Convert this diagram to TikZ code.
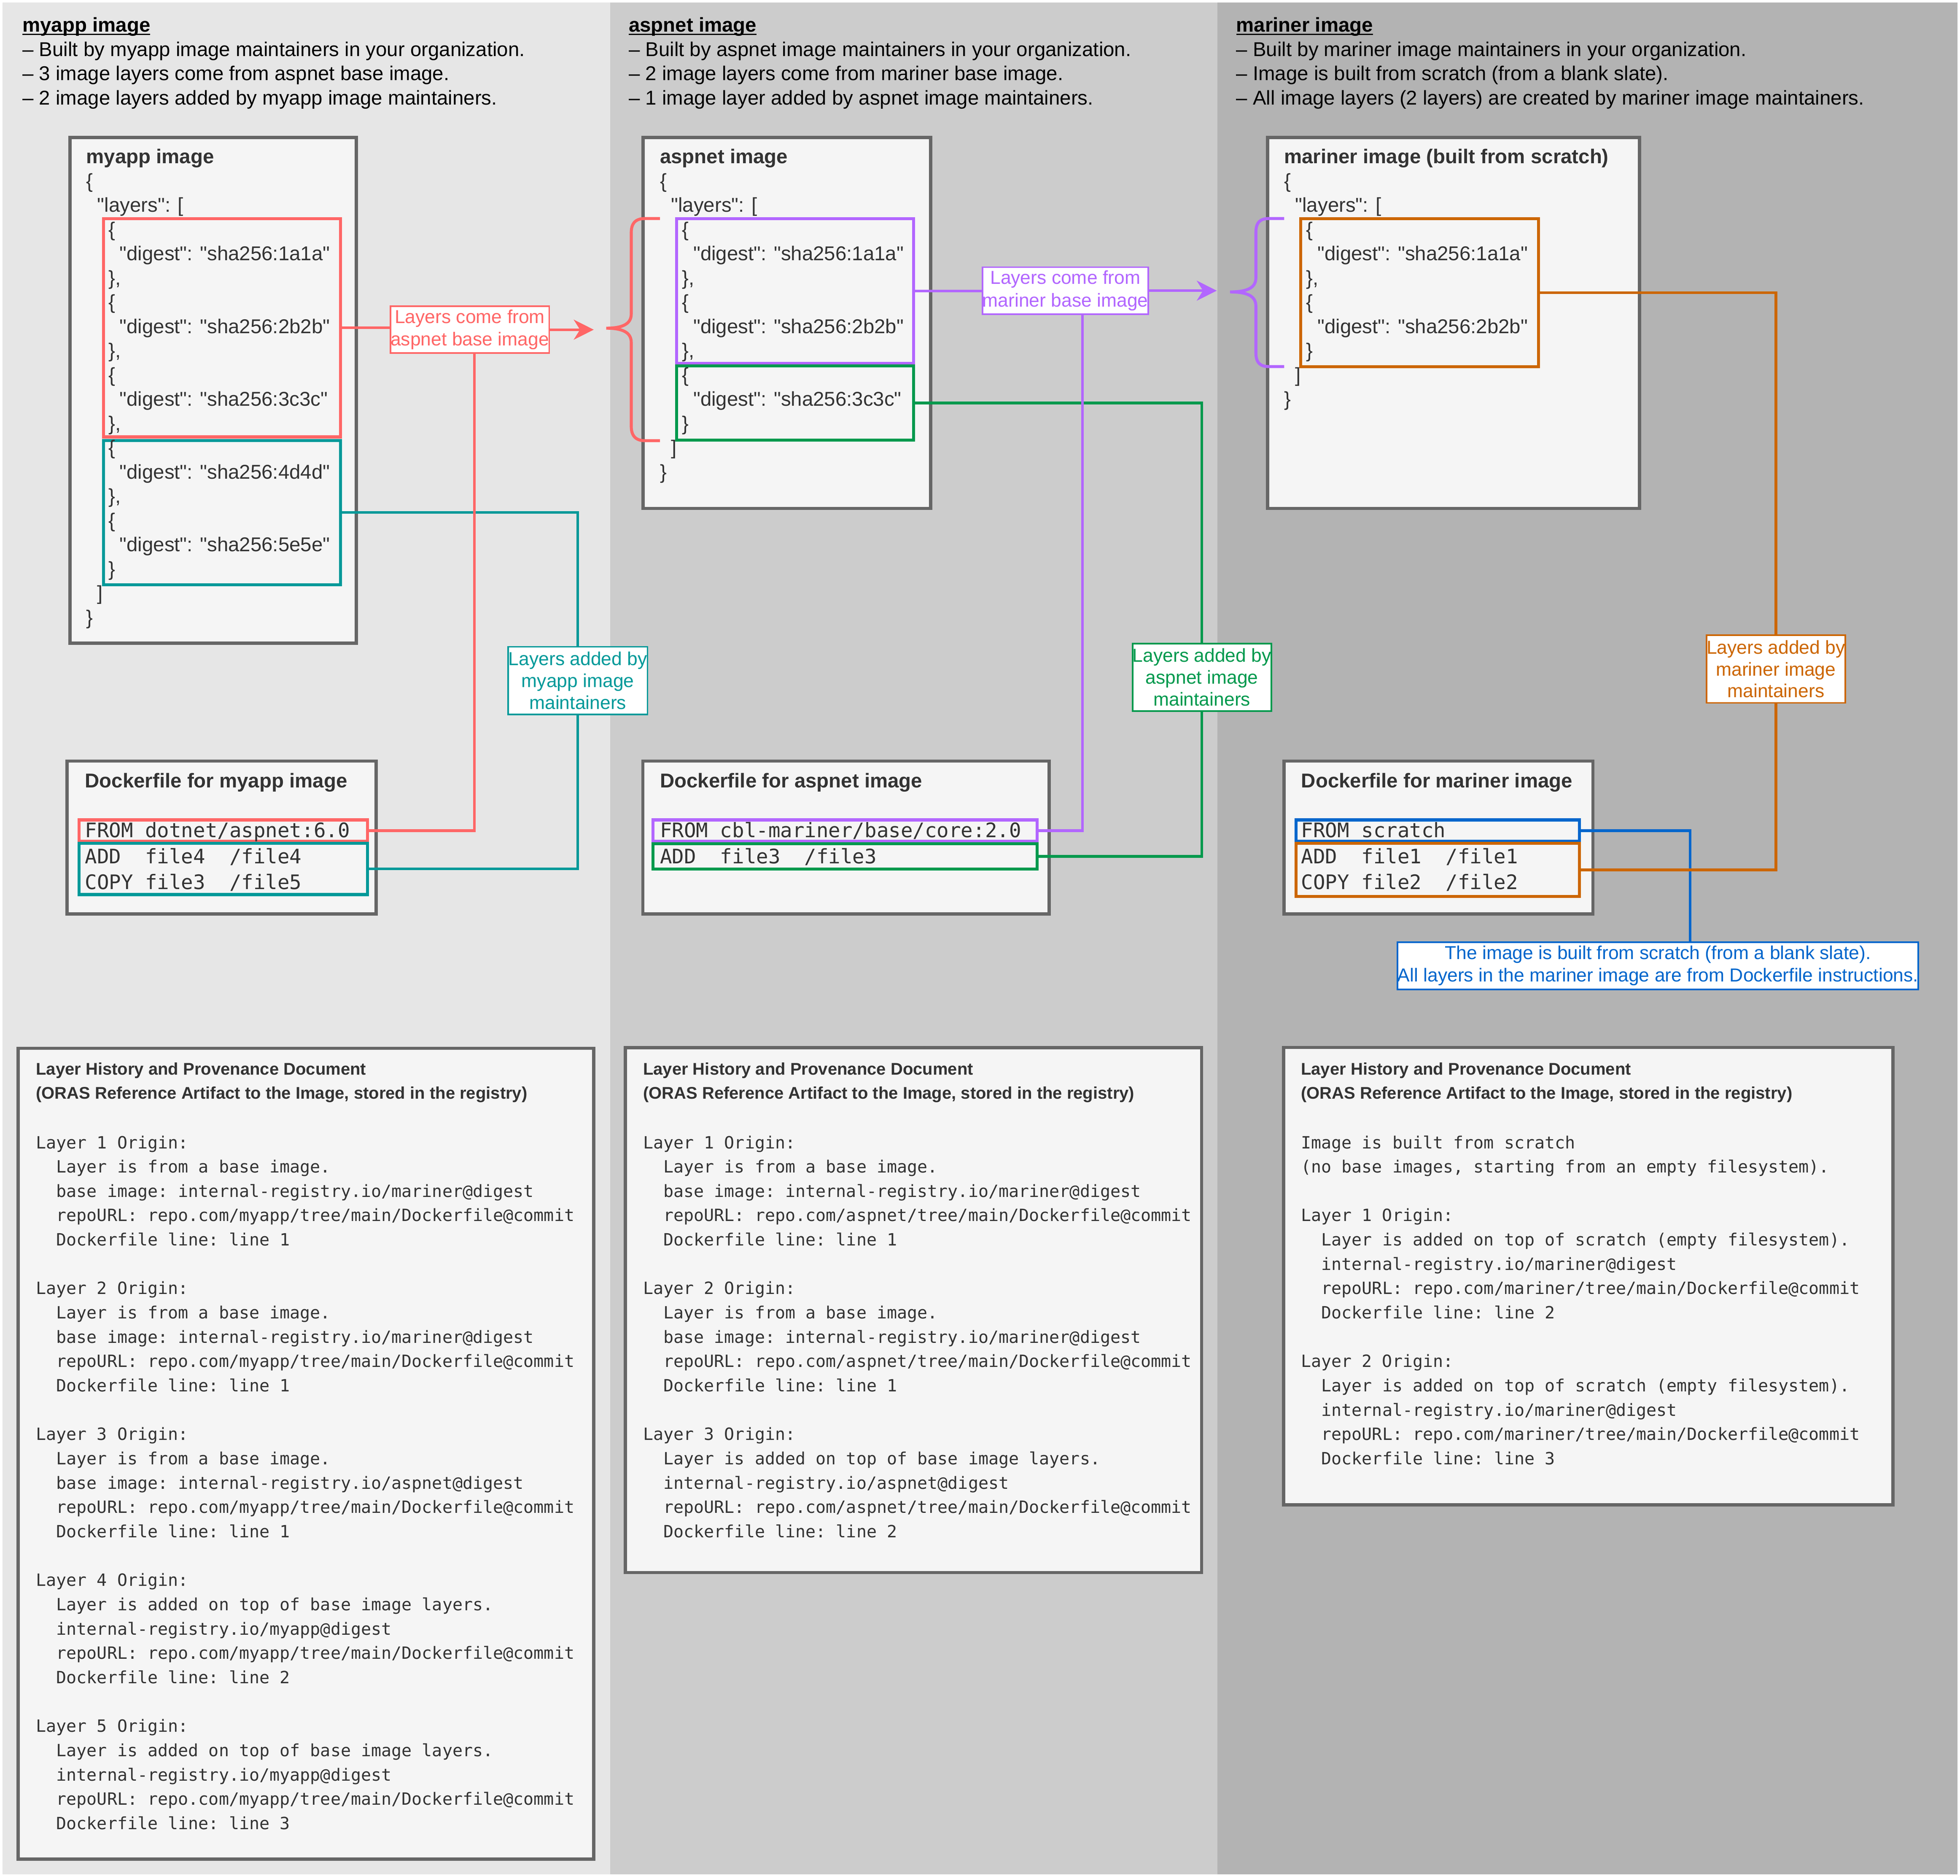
\documentclass[tikz,border=0pt]{standalone}
\usepackage{fontspec}
\setmainfont{Liberation Sans}[Ligatures=TeXOff]
\setmonofont{DejaVu Sans Mono}
\usetikzlibrary{arrows.meta}
\definecolor{cLaneA}{HTML}{E6E6E6}
\definecolor{cLaneB}{HTML}{CCCCCC}
\definecolor{cLaneC}{HTML}{B3B3B3}
\definecolor{boxfill}{HTML}{F5F5F5}
\definecolor{boxline}{HTML}{666666}
\definecolor{txt}{HTML}{333333}
\definecolor{cred}{HTML}{FF6666}
\definecolor{cteal}{HTML}{009999}
\definecolor{cpurple}{HTML}{B266FF}
\definecolor{cgreen}{HTML}{00994D}
\definecolor{corange}{HTML}{CC6600}
\definecolor{cblue}{HTML}{0066CC}
\newcommand\fontJ{\fontsize{16}{19.4}\selectfont}
\newcommand\fontL{\fontsize{15}{18}\selectfont}
\newcommand\fontD{\fontsize{13.5}{19.45}\selectfont}
\newcommand\boxnode[7]{%
  \node[#2, minimum width={(#5)-(#3)}, minimum height={(#6)-(#4)}] (#1) at ({((#3)+(#5))/2},{((#4)+(#6))/2}) {#7};}
\newcommand\txtlines[6]{%
  \foreach \ln [count=\i from 0] in {#6}{%
    \node[#2, anchor=base west, inner sep=0pt, outer sep=0pt] (#1-\i) at (#3, {#4+\i*#5}) {\ln};}}
\tikzset{
  lane/.style={draw=none, inner sep=0pt, outer sep=0pt},
  panel/.style={draw=boxline, fill=boxfill, line width=2.6pt, inner sep=0pt, outer sep=0pt},
  hl/.style={draw=#1, line width=2.4pt, inner sep=0pt, outer sep=0pt},
  lbl/.style={draw=#1, text=#1, fill=white, line width=1.3pt, inner sep=0pt, outer sep=0pt, align=center, font=\fontL},
  conn/.style={draw=#1, line width=2.1pt},
  brace/.style={draw=#1, line width=2.4pt},
  hdr/.style={text=black, font=\fontJ},
  json/.style={text=txt, font=\fontJ},
  mono/.style={text=txt, font=\fontJ\ttfamily},
  docm/.style={text=txt, font=\fontD\ttfamily},
  doct/.style={text=txt, font={\fontsize{13.5}{19.3}\selectfont\bfseries}},
  tip/.style={-{Stealth[length=16pt,width=16pt,inset=5pt]}},
}
\begin{document}
\begin{tikzpicture}[x=1pt,y=-1pt]
\useasboundingbox (0,0) rectangle (1568,1500.5);
\fill[white] (0,0) rectangle (1568,1500.5);
% lanes
\boxnode{laneA}{lane, fill=cLaneA}{2}{2}{488}{1499}{}
\boxnode{laneB}{lane, fill=cLaneB}{488}{2}{974}{1499}{}
\boxnode{laneC}{lane, fill=cLaneC}{974}{2}{1566}{1499}{}
% headers
\txtlines{hA}{hdr}{18}{25.5}{19.4}{{\bfseries myapp image},{– Built by myapp image maintainers in your organization.},{– 3 image layers come from aspnet base image.},{– 2 image layers added by myapp image maintainers.}}
\txtlines{hB}{hdr}{503}{25.5}{19.4}{{\bfseries aspnet image},{– Built by aspnet image maintainers in your organization.},{– 2 image layers come from mariner base image.},{– 1 image layer added by aspnet image maintainers.}}
\txtlines{hC}{hdr}{989}{25.5}{19.4}{{\bfseries mariner image},{– Built by mariner image maintainers in your organization.},{– Image is built from scratch (from a blank slate).},{– All image layers (2 layers) are created by mariner image maintainers.}}
\foreach \h in {hA,hB,hC}{\draw[line width=1.3pt] ([yshift=-2pt]\h-0.base west) -- ([yshift=-2pt]\h-0.base east);}
% panels
\boxnode{jsonA}{panel}{56}{110}{285}{514.5}{}
\boxnode{jsonB}{panel}{514.5}{110}{744.5}{406.7}{}
\boxnode{jsonC}{panel}{1014}{110}{1311.5}{406.7}{}
\boxnode{dockA}{panel}{53.7}{608.7}{301}{731}{}
\boxnode{dockB}{panel}{514.3}{608.7}{839.4}{731}{}
\boxnode{dockC}{panel}{1027.3}{608.7}{1274.3}{731}{}
\boxnode{docA}{panel}{14.6}{838.5}{475}{1487}{}
\boxnode{docB}{panel}{500.4}{838}{961.3}{1257.8}{}
\boxnode{docC}{panel}{1026.9}{837.8}{1514.4}{1203.7}{}
% highlight boxes
\boxnode{redbox}{hl=cred}{82.7}{174.8}{272.3}{349.5}{}
\boxnode{tealbox}{hl=cteal}{82.7}{352.4}{272.3}{467.6}{}
\boxnode{purplebox}{hl=cpurple}{541.3}{174.8}{731}{290.5}{}
\boxnode{greenbox}{hl=cgreen}{541.3}{292.7}{731}{351.9}{}
\boxnode{orangebox}{hl=corange}{1040.5}{174.8}{1230.7}{293.2}{}
\boxnode{fromA}{hl=cred}{63.4}{655.8}{293.9}{673}{}
\boxnode{addA}{hl=cteal}{63.4}{674.6}{293.9}{715.5}{}
\boxnode{fromB}{hl=cpurple}{522.4}{655.8}{829.8}{673}{}
\boxnode{addB}{hl=cgreen}{522.4}{675}{829.8}{695}{}
\boxnode{fromC}{hl=cblue}{1036.7}{655.8}{1263.4}{673}{}
\boxnode{addC}{hl=corange}{1036.7}{674.6}{1263.4}{717}{}
% JSON texts
\txtlines{jA}{json}{69}{130.8}{19.4}{{\bfseries myapp image},{\{},{\ \ "layers": [},{\ \ \ \ \{},{\ \ \ \ \ \ "digest": "sha256:1a1a"},{\ \ \ \ \},},{\ \ \ \ \{},{\ \ \ \ \ \ "digest": "sha256:2b2b"},{\ \ \ \ \},},{\ \ \ \ \{},{\ \ \ \ \ \ "digest": "sha256:3c3c"},{\ \ \ \ \},},{\ \ \ \ \{},{\ \ \ \ \ \ "digest": "sha256:4d4d"},{\ \ \ \ \},},{\ \ \ \ \{},{\ \ \ \ \ \ "digest": "sha256:5e5e"},{\ \ \ \ \}},{\ \ ]},{\}}}
\txtlines{jB}{json}{528}{130.8}{19.4}{{\bfseries aspnet image},{\{},{\ \ "layers": [},{\ \ \ \ \{},{\ \ \ \ \ \ "digest": "sha256:1a1a"},{\ \ \ \ \},},{\ \ \ \ \{},{\ \ \ \ \ \ "digest": "sha256:2b2b"},{\ \ \ \ \},},{\ \ \ \ \{},{\ \ \ \ \ \ "digest": "sha256:3c3c"},{\ \ \ \ \}},{\ \ ]},{\}}}
\txtlines{jC}{json}{1027.3}{130.8}{19.4}{{\bfseries mariner image (built from scratch)},{\{},{\ \ "layers": [},{\ \ \ \ \{},{\ \ \ \ \ \ "digest": "sha256:1a1a"},{\ \ \ \ \},},{\ \ \ \ \{},{\ \ \ \ \ \ "digest": "sha256:2b2b"},{\ \ \ \ \}},{\ \ ]},{\}}}
% Dockerfile texts
\txtlines{tA}{json}{68}{630}{19.4}{{\bfseries Dockerfile for myapp image}}
\txtlines{tB}{json}{528}{630}{19.4}{{\bfseries Dockerfile for aspnet image}}
\txtlines{tC}{json}{1041}{630}{19.4}{{\bfseries Dockerfile for mariner image}}
\txtlines{kA}{mono}{68}{669.8}{20.75}{{FROM dotnet/aspnet:6.0},{ADD\ \ file4\ \ /file4},{COPY file3\ \ /file5}}
\txtlines{kB}{mono}{528}{669.8}{20.75}{{FROM cbl-mariner/base/core:2.0},{ADD\ \ file3\ \ /file3}}
\txtlines{kC}{mono}{1041}{669.8}{20.75}{{FROM scratch},{ADD\ \ file1\ \ /file1},{COPY file2\ \ /file2}}
% provenance documents
\txtlines{dAt}{doct}{28.8}{859.8}{19.3}{{Layer History and Provenance Document},{(ORAS Reference Artifact to the Image, stored in the registry)}}
\txtlines{dBt}{doct}{514.5}{859.8}{19.3}{{Layer History and Provenance Document},{(ORAS Reference Artifact to the Image, stored in the registry)}}
\txtlines{dCt}{doct}{1040.8}{859.8}{19.3}{{Layer History and Provenance Document},{(ORAS Reference Artifact to the Image, stored in the registry)}}
\txtlines{dA1}{docm}{28.8}{918.6}{19.45}{{Layer 1 Origin:},{\ \ Layer is from a base image.},{\ \ base image: internal-registry.io/mariner@digest},{\ \ repoURL: repo.com/myapp/tree/main/Dockerfile@commit},{\ \ Dockerfile line: line 1}}
\txtlines{dA2}{docm}{28.8}{1035.3}{19.45}{{Layer 2 Origin:},{\ \ Layer is from a base image.},{\ \ base image: internal-registry.io/mariner@digest},{\ \ repoURL: repo.com/myapp/tree/main/Dockerfile@commit},{\ \ Dockerfile line: line 1}}
\txtlines{dA3}{docm}{28.8}{1152.0}{19.45}{{Layer 3 Origin:},{\ \ Layer is from a base image.},{\ \ base image: internal-registry.io/aspnet@digest},{\ \ repoURL: repo.com/myapp/tree/main/Dockerfile@commit},{\ \ Dockerfile line: line 1}}
\txtlines{dA4}{docm}{28.8}{1268.7}{19.45}{{Layer 4 Origin:},{\ \ Layer is added on top of base image layers.},{\ \ internal-registry.io/myapp@digest},{\ \ repoURL: repo.com/myapp/tree/main/Dockerfile@commit},{\ \ Dockerfile line: line 2}}
\txtlines{dA5}{docm}{28.8}{1385.4}{19.45}{{Layer 5 Origin:},{\ \ Layer is added on top of base image layers.},{\ \ internal-registry.io/myapp@digest},{\ \ repoURL: repo.com/myapp/tree/main/Dockerfile@commit},{\ \ Dockerfile line: line 3}}
\txtlines{dB1}{docm}{514.5}{918.6}{19.45}{{Layer 1 Origin:},{\ \ Layer is from a base image.},{\ \ base image: internal-registry.io/mariner@digest},{\ \ repoURL: repo.com/aspnet/tree/main/Dockerfile@commit},{\ \ Dockerfile line: line 1}}
\txtlines{dB2}{docm}{514.5}{1035.3}{19.45}{{Layer 2 Origin:},{\ \ Layer is from a base image.},{\ \ base image: internal-registry.io/mariner@digest},{\ \ repoURL: repo.com/aspnet/tree/main/Dockerfile@commit},{\ \ Dockerfile line: line 1}}
\txtlines{dB3}{docm}{514.5}{1152.0}{19.45}{{Layer 3 Origin:},{\ \ Layer is added on top of base image layers.},{\ \ internal-registry.io/aspnet@digest},{\ \ repoURL: repo.com/aspnet/tree/main/Dockerfile@commit},{\ \ Dockerfile line: line 2}}
\txtlines{dC0}{docm}{1040.8}{918.6}{19.45}{{Image is built from scratch},{(no base images, starting from an empty filesystem).}}
\txtlines{dC1}{docm}{1040.8}{976.95}{19.45}{{Layer 1 Origin:},{\ \ Layer is added on top of scratch (empty filesystem).},{\ \ internal-registry.io/mariner@digest},{\ \ repoURL: repo.com/mariner/tree/main/Dockerfile@commit},{\ \ Dockerfile line: line 2}}
\txtlines{dC2}{docm}{1040.8}{1093.65}{19.45}{{Layer 2 Origin:},{\ \ Layer is added on top of scratch (empty filesystem).},{\ \ internal-registry.io/mariner@digest},{\ \ repoURL: repo.com/mariner/tree/main/Dockerfile@commit},{\ \ Dockerfile line: line 3}}
% labels
\boxnode{redlbl}{lbl=cred}{312.3}{245}{439.4}{282.4}{Layers come from\\aspnet base image}
\boxnode{purplelbl}{lbl=cpurple}{786}{213.7}{918.4}{251.3}{Layers come from\\mariner base image}
\boxnode{teallbl}{lbl=cteal, font=\fontsize{15}{17.5}\selectfont}{406.5}{517.3}{518}{571.5}{Layers added by\\myapp image\\maintainers}
\boxnode{greenlbl}{lbl=cgreen, font=\fontsize{15}{17.5}\selectfont}{906}{514.7}{1017}{568.8}{Layers added by\\aspnet image\\maintainers}
\boxnode{orangelbl}{lbl=corange, font=\fontsize{15}{17.5}\selectfont}{1365.4}{508}{1476}{562.2}{Layers added by\\mariner image\\maintainers}
\boxnode{bluelbl}{lbl=cblue}{1119.6}{753.6}{1533}{791.3}{The image is built from scratch (from a blank slate).\\All layers in the mariner image are from Dockerfile instructions.}
% helper coordinates
\coordinate (rArrow) at (475,263.7);
\coordinate (pArrow) at (973.4,232.5);
\coordinate (rVx) at (379.5,0);
\coordinate (pVx) at (866,0);
\coordinate (bVx) at (1352,0);
% connectors
\draw[conn=cteal] (tealbox.east) -| (teallbl.north);
\draw[conn=cteal] (teallbl.south) |- (addA.east);
\draw[conn=cred] (redbox.east) -- (redbox.east -| redlbl.west);
\draw[conn=cred, tip] (redlbl.east) -- (rArrow);
\draw[conn=cred] (rVx |- redlbl.south) |- (fromA.east);
\draw[conn=cgreen] (greenbox.east) -| (greenlbl.north);
\draw[conn=cgreen] (greenlbl.south) |- (addB.east);
\draw[conn=cpurple] (purplebox.east) -- (purplebox.east -| purplelbl.west);
\draw[conn=cpurple, tip] (purplelbl.east) -- (pArrow);
\draw[conn=cpurple] (pVx |- purplelbl.south) |- (fromB.east);
\draw[conn=cblue] (fromC.east) -| (bVx |- bluelbl.north);
\draw[conn=corange] (orangebox.east) -| (orangelbl.north);
\draw[conn=corange] (orangelbl.south) |- (addC.east);
% braces
\draw[brace=cred] (528,174.8) -- (516,174.8) .. controls (509,174.8) and (505,178) .. (505,186) -- (505,251) .. controls (505,258) and (500,262.5) .. (485,262.5) .. controls (500,262.5) and (505,267) .. (505,274) -- (505,341) .. controls (505,349) and (509,352.5) .. (516,352.5) -- (528,352.5);
\draw[brace=cpurple] (1027.3,174.8) -- (1015,174.8) .. controls (1008,174.8) and (1004.7,178) .. (1004.7,186) -- (1004.7,222) .. controls (1004.7,229) and (1000,233.5) .. (984,233.5) .. controls (1000,233.5) and (1004.7,238) .. (1004.7,245) -- (1004.7,282) .. controls (1004.7,290) and (1008,293.2) .. (1015,293.2) -- (1027.3,293.2);
\end{tikzpicture}
\end{document}
